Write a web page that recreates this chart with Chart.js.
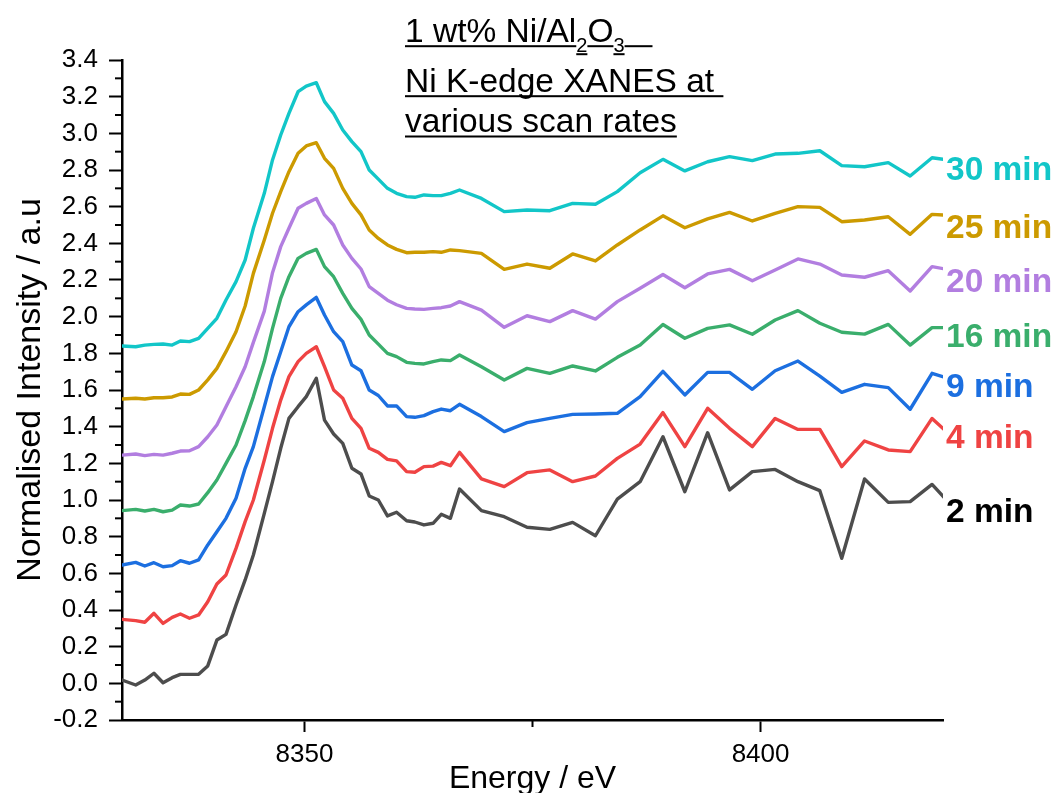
<!DOCTYPE html>
<html>
<head>
<meta charset="utf-8">
<script src="https://cdn.jsdelivr.net/npm/chart.js@4.4.1/dist/chart.umd.min.js"></script>
<style>
  html, body { margin: 0; padding: 0; background: #fff; }
  #wrap { width: 1058px; height: 793px; }
</style>
</head>
<body>
<div id="wrap"><canvas id="c" width="1058" height="793"></canvas></div>
<script>
// ---- data ----
const energy = [8330.0, 8331.5, 8332.5, 8333.5, 8334.5, 8335.5, 8336.4, 8337.4, 8338.4, 8339.4,
  8340.4, 8341.4, 8342.5, 8343.5, 8344.4, 8345.6, 8346.5, 8347.4, 8348.3, 8349.3,
  8350.2, 8351.3, 8352.2, 8353.2, 8354.2, 8355.2, 8356.2, 8357.1, 8358.1, 8359.1,
  8360.1, 8361.2, 8362.1, 8363.1, 8364.1, 8365.0, 8366.0, 8367.0, 8369.4, 8371.9,
  8374.4, 8376.9, 8379.4, 8381.9, 8384.3, 8386.8, 8389.3, 8391.7, 8394.2, 8396.6,
  8399.1, 8401.6, 8404.1, 8406.5, 8408.9, 8411.4, 8414.0, 8416.4, 8418.8, 8421.3];

const min2 = [0.018, -0.009, 0.018, 0.055, 0.003, 0.031, 0.049, 0.049, 0.049, 0.095,
  0.236, 0.267, 0.427, 0.564, 0.70, 0.927, 1.10, 1.282, 1.445, 1.509,
  1.564, 1.664, 1.436, 1.36, 1.309, 1.173, 1.142, 1.022, 1.0, 0.913,
  0.933, 0.887, 0.880, 0.864, 0.873, 0.922, 0.90, 1.06, 0.942, 0.909,
  0.851, 0.84, 0.878, 0.805, 1.005, 1.10, 1.345, 1.045, 1.367, 1.055,
  1.155, 1.167, 1.10, 1.051, 0.682, 1.115, 0.987, 0.991, 1.085, 0.95];

const min4 = [0.349, 0.342, 0.333, 0.382, 0.327, 0.36, 0.378, 0.355, 0.373, 0.445,
  0.542, 0.591, 0.736, 0.882, 1.0, 1.218, 1.391, 1.545, 1.673, 1.755,
  1.80, 1.836, 1.727, 1.60, 1.555, 1.445, 1.391, 1.282, 1.26, 1.222,
  1.213, 1.155, 1.151, 1.182, 1.185, 1.205, 1.187, 1.26, 1.115, 1.073,
  1.149, 1.164, 1.10, 1.131, 1.227, 1.305, 1.477, 1.291, 1.50, 1.391,
  1.291, 1.445, 1.385, 1.385, 1.182, 1.322, 1.273, 1.264, 1.445, 1.33];

const min9 = [0.645, 0.66, 0.64, 0.658, 0.636, 0.642, 0.669, 0.655, 0.673, 0.755,
  0.827, 0.90, 1.009, 1.173, 1.291, 1.509, 1.673, 1.809, 1.945, 2.027,
  2.064, 2.105, 2.009, 1.918, 1.864, 1.736, 1.705, 1.60, 1.57, 1.513,
  1.513, 1.455, 1.451, 1.46, 1.482, 1.496, 1.487, 1.522, 1.455, 1.373,
  1.422, 1.445, 1.467, 1.469, 1.473, 1.564, 1.702, 1.573, 1.696, 1.696,
  1.604, 1.705, 1.758, 1.676, 1.587, 1.631, 1.613, 1.495, 1.691, 1.653];

const min16 = [0.942, 0.949, 0.94, 0.949, 0.936, 0.945, 0.973, 0.967, 0.978, 1.04,
  1.109, 1.20, 1.30, 1.433, 1.564, 1.755, 1.936, 2.10, 2.218, 2.318,
  2.345, 2.367, 2.273, 2.218, 2.127, 2.045, 1.985, 1.90, 1.85, 1.80,
  1.782, 1.751, 1.745, 1.742, 1.755, 1.764, 1.76, 1.791, 1.727, 1.655,
  1.718, 1.691, 1.731, 1.704, 1.778, 1.845, 1.957, 1.882, 1.936, 1.955,
  1.904, 1.982, 2.033, 1.964, 1.915, 1.905, 1.958, 1.845, 1.94, 1.94];

const min20 = [1.245, 1.251, 1.242, 1.249, 1.245, 1.255, 1.267, 1.269, 1.291, 1.345,
  1.409, 1.509, 1.618, 1.727, 1.86, 2.03, 2.24, 2.382, 2.482, 2.591,
  2.618, 2.645, 2.555, 2.50, 2.391, 2.318, 2.26, 2.164, 2.127, 2.09,
  2.065, 2.045, 2.042, 2.04, 2.045, 2.049, 2.058, 2.082, 2.036, 1.942,
  2.005, 1.973, 2.033, 1.987, 2.082, 2.155, 2.23, 2.158, 2.233, 2.258,
  2.196, 2.255, 2.315, 2.287, 2.227, 2.215, 2.251, 2.14, 2.273, 2.25];

const min25 = [1.551, 1.555, 1.551, 1.558, 1.558, 1.562, 1.578, 1.576, 1.60, 1.655,
  1.718, 1.809, 1.918, 2.058, 2.236, 2.418, 2.564, 2.682, 2.791, 2.891,
  2.931, 2.949, 2.864, 2.809, 2.70, 2.618, 2.555, 2.473, 2.427, 2.391,
  2.367, 2.349, 2.351, 2.351, 2.355, 2.351, 2.364, 2.36, 2.345, 2.258,
  2.287, 2.264, 2.342, 2.304, 2.391, 2.473, 2.55, 2.485, 2.533, 2.569,
  2.522, 2.564, 2.60, 2.596, 2.518, 2.527, 2.545, 2.449, 2.558, 2.55];

const min30 = [1.84, 1.836, 1.845, 1.849, 1.851, 1.845, 1.867, 1.864, 1.882, 1.936,
  1.991, 2.091, 2.191, 2.309, 2.482, 2.673, 2.855, 2.991, 3.109, 3.227,
  3.258, 3.276, 3.173, 3.109, 3.018, 2.955, 2.90, 2.80, 2.75, 2.70,
  2.673, 2.655, 2.651, 2.664, 2.66, 2.66, 2.673, 2.691, 2.645, 2.573,
  2.582, 2.578, 2.618, 2.613, 2.682, 2.785, 2.858, 2.795, 2.845, 2.873,
  2.851, 2.887, 2.891, 2.905, 2.824, 2.818, 2.84, 2.767, 2.867, 2.85];

const seriesNames  = ['2 min', '4 min', '9 min', '16 min', '20 min', '25 min', '30 min'];
const seriesValues = [min2, min4, min9, min16, min20, min25, min30];
const lineColors   = ['#4d4d4d', '#ef4343', '#1c6fe0', '#3aae6c', '#b27ee0', '#cc9a00', '#12c6c8'];
const labelColors  = ['#000000', '#ef4343', '#1c6fe0', '#3aae6c', '#b27ee0', '#cc9a00', '#12c6c8'];
const labelY       = [0.93, 1.333, 1.611, 1.884, 2.184, 2.478, 2.795];

const xMin = 8330, xMax = 8420, xStep = 50;
const yMin = -0.2, yMax = 3.4, yStep = 0.2;

const titleLines = [
  [{t: '1 wt% Ni/Al'}, {t: '2', sub: true}, {t: 'O'}, {t: '3', sub: true}, {t: '\u00a0\u00a0\u00a0'}],
  [{t: 'Ni K-edge XANES at\u00a0'}],
  [{t: 'various scan rates'}]
];
const xTitle = 'Energy / eV';
const yTitle = 'Normalised Intensity / a.u';

const FONT = '"Liberation Sans", Arial, Helvetica, sans-serif';

// ---- overlay plugin (minor ticks, labels, titles) ----
const overlay = {
  id: 'overlay',
  afterDraw(chart) {
    const ctx = chart.ctx;
    const a = chart.chartArea;
    const xs = chart.scales.x, ys = chart.scales.y;
    ctx.save();
    // minor ticks
    ctx.strokeStyle = '#000';
    ctx.lineWidth = 2;
    const yt = ys.ticks.map(t => t.value);
    for (let i = 0; i < yt.length - 1; i++) {
      const py = ys.getPixelForValue((yt[i] + yt[i + 1]) / 2);
      ctx.beginPath(); ctx.moveTo(a.left - 7, py); ctx.lineTo(a.left, py); ctx.stroke();
    }
    const xt = xs.ticks.map(t => t.value);
    const xm = [];
    for (let i = 0; i < xt.length - 1; i++) xm.push((xt[i] + xt[i + 1]) / 2);
    xm.push(xt[0] - xStep / 2, xt[xt.length - 1] + xStep / 2);
    xm.forEach(v => {
      if (v < xMin || v > xMax) return;
      const px = xs.getPixelForValue(v);
      ctx.beginPath(); ctx.moveTo(px, a.bottom); ctx.lineTo(px, a.bottom + 7); ctx.stroke();
    });

    // series labels
    ctx.font = 'bold 33.5px ' + FONT;
    ctx.textAlign = 'left';
    ctx.textBaseline = 'middle';
    seriesNames.forEach((n, i) => {
      ctx.fillStyle = labelColors[i];
      ctx.fillText(n, a.right + 3, ys.getPixelForValue(labelY[i]));
    });

    // x title
    ctx.fillStyle = '#000';
    ctx.font = '32px ' + FONT;
    ctx.textAlign = 'center';
    ctx.textBaseline = 'alphabetic';
    ctx.fillText(xTitle, (a.left + a.right) / 2, 788);

    // y title
    ctx.save();
    ctx.translate(40, (a.top + a.bottom) / 2);
    ctx.rotate(-Math.PI / 2);
    ctx.font = '34px ' + FONT;
    ctx.textAlign = 'center';
    ctx.textBaseline = 'alphabetic';
    ctx.fillText(yTitle, 0, 0);
    ctx.restore();

    // main title (underlined)
    const baselines = [41.7, 91.7, 132];
    ctx.textAlign = 'left';
    ctx.textBaseline = 'alphabetic';
    titleLines.forEach((segs, li) => {
      let x = 405;
      const b = baselines[li];
      segs.forEach(s => {
        const sub = !!s.sub;
        ctx.font = (sub ? '20px ' : '33.5px ') + FONT;
        const by = sub ? b + 10 : b;
        ctx.fillText(s.t, x, by);
        const w = ctx.measureText(s.t).width;
        ctx.fillRect(x, by + (sub ? 1.5 : 3.5), w, 2);
        x += w;
      });
    });
    ctx.restore();
  }
};

const datasets = seriesValues.map((vals, i) => ({
  label: seriesNames[i],
  data: energy.map((e, j) => ({x: e, y: vals[j]})),
  borderColor: lineColors[i],
  backgroundColor: lineColors[i],
  borderWidth: 3.4,
  pointRadius: 0,
  tension: 0,
  fill: false,
  borderJoinStyle: 'round',
  borderCapStyle: 'round'
}));

new Chart(document.getElementById('c'), {
  type: 'line',
  data: { datasets },
  options: {
    responsive: false,
    animation: false,
    devicePixelRatio: 1,
    layout: { padding: { left: 0, right: 115, top: 60, bottom: 0 } },
    plugins: { legend: { display: false }, tooltip: { enabled: false }, title: { display: false } },
    scales: {
      x: {
        type: 'linear',
        min: xMin, max: xMax,
        afterFit(s) { s.height = 73; },
        ticks: {
          stepSize: xStep, includeBounds: false, color: '#000', padding: 7,
          font: { size: 26, family: FONT },
          callback: v => String(v)
        },
        grid: { drawOnChartArea: false, drawTicks: true, tickLength: 12, tickWidth: 2, tickColor: '#000' },
        border: { display: true, color: '#000', width: 2.5 }
      },
      y: {
        type: 'linear',
        min: yMin, max: yMax,
        afterFit(s) { s.width = 122; },
        ticks: {
          stepSize: yStep, color: '#000', padding: 11, autoSkip: false,
          font: { size: 26, family: FONT },
          callback: v => (Math.abs(v) < 1e-9 ? 0 : v).toFixed(1)
        },
        grid: { drawOnChartArea: false, drawTicks: true, tickLength: 13, tickWidth: 2, tickColor: '#000' },
        border: { display: true, color: '#000', width: 2.5 }
      }
    }
  },
  plugins: [overlay]
});
</script>
</body>
</html>
